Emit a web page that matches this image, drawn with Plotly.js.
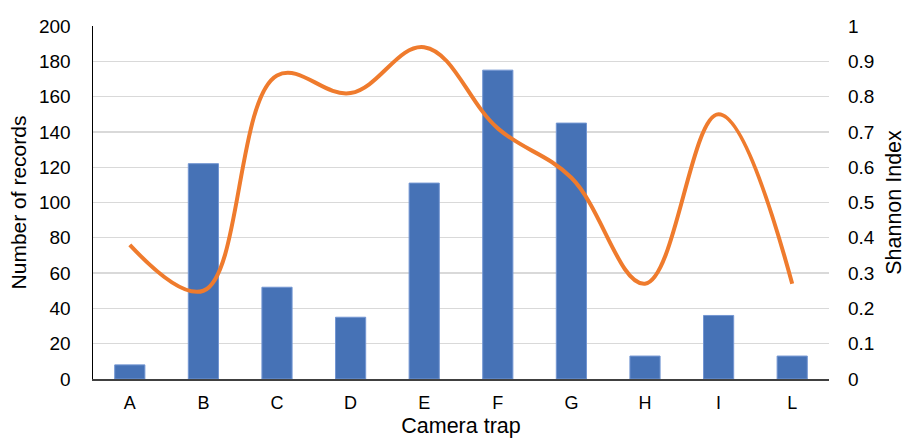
<!DOCTYPE html>
<html>
<head>
<meta charset="utf-8">
<script src="https://cdn.plot.ly/plotly-3.0.1.min.js"></script>
<style>html,body{margin:0;padding:0;background:#fff;}#chart{width:906px;height:438px;}</style>
</head>
<body>
<div id="chart"></div>
<script>
const categories = ['A','B','C','D','E','F','G','H','I','L'];
const records = [8, 122, 52, 35, 111, 175, 145, 13, 36, 13];
const shannon = [0.38, 0.25, 0.86, 0.81, 0.94, 0.71, 0.57, 0.27, 0.75, 0.27];
const leftTicks = [0,20,40,60,80,100,120,140,160,180,200];
const rightTicks = [0,0.1,0.2,0.3,0.4,0.5,0.6,0.7,0.8,0.9,1];
const rightTickText = ['0','0.1','0.2','0.3','0.4','0.5','0.6','0.7','0.8','0.9','1'];

const font = {family: 'Liberation Sans, Arial, sans-serif', color: '#000', size: 18};

const traces = [
  {type:'bar', x:categories, y:records, name:'Number of records',
   marker:{color:'#4672B6', line:{color:'#7396d2', width:1}}, yaxis:'y'},
  {type:'scatter', mode:'lines', x:categories, y:shannon, name:'Shannon Index',
   line:{color:'#EF7B2D', width:4, shape:'spline', smoothing:1.1}, yaxis:'y2'}
];

const layout = {
  width:906, height:438,
  margin:{l:93, r:77, t:26, b:59},
  paper_bgcolor:'#fff', plot_bgcolor:'#fff',
  showlegend:false,
  bargap:0.59,
  font:font,
  xaxis:{
    type:'category', showgrid:false, zeroline:false,
    showline:true, linecolor:'#404040', linewidth:1.5,
    ticks:'', ticklabelstandoff:7,
    tickfont:{size:18},
    title:{text:'Camera trap', font:{size:21.5}, standoff:6}
  },
  yaxis:{
    range:[0,200], tickvals:leftTicks, showgrid:true, gridcolor:'#d9d9d9', gridwidth:1.3,
    zeroline:false, showline:true, linecolor:'#000', linewidth:1.5,
    ticks:'', ticklabelstandoff:17, tickfont:{size:19},
    title:{text:'Number of records', font:{size:21}, standoff:6}
  },
  yaxis2:{
    overlaying:'y', side:'right', range:[0,1], tickvals:rightTicks, ticktext:rightTickText,
    showgrid:false, zeroline:false, showline:false,
    ticks:'', ticklabelstandoff:18, tickfont:{size:19},
    title:{text:'Shannon Index', font:{size:21.5}, standoff:17}
  }
};

Plotly.newPlot('chart', traces, layout, {displayModeBar:false, staticPlot:true});
</script>
</body>
</html>
